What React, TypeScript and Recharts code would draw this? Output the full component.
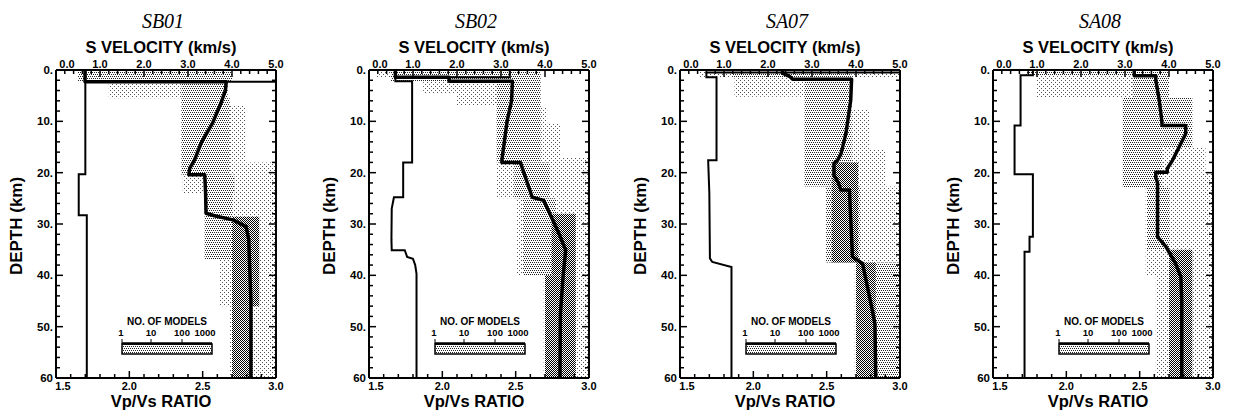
import React from "react";
import { ScatterChart, Scatter, XAxis, YAxis, ReferenceArea } from "recharts";

// [value, depth km]
type Pt = [number, number];
// [depth top, depth bottom, vs low, vs high]
type Band = [number, number, number, number];

const velocityTicks = [0, 1, 2, 3, 4, 5];
const velocityLabels = ["0.0", "1.0", "2.0", "3.0", "4.0", "5.0"];
const ratioTicks = [1.5, 2, 2.5, 3];
const ratioLabels = ["1.5", "2.0", "2.5", "3.0"];
const depthTicks = [0, 10, 20, 30, 40, 50, 60];
const depthLabels = ["0.", "10.", "20.", "30.", "40.", "50.", "60"];
const legendLabels = ["1", "10", "100", "1000"];

// SB01
const sb01Vs: Pt[] = [[0.66, 0], [0.66, 2.3], [3.87, 2.3], [3.85, 4], [3.75, 6.4], [3.56, 10.3], [3.3, 14.2], [3.15, 17.5], [3.04, 19.1], [3.02, 20.4], [3.38, 20.4], [3.4, 24], [3.41, 27.9], [3.6, 28.4], [4.02, 29.2], [4.32, 30.5], [4.38, 33], [4.4, 38], [4.43, 45], [4.43, 60]];
const sb01Ratio: Pt[] = [[3.0, 0], [3.0, 2.3], [1.7, 2.3], [1.7, 20.3], [1.655, 20.3], [1.655, 28.3], [1.71, 28.3], [1.71, 60]];
const sb01Light: Band[] = [[2.5, 5.5, 1.2, 2.85], [6.9, 18, 3.95, 4.32], [18, 24, 2.88, 5], [24, 37, 3.38, 5], [37, 46, 3.72, 5], [46, 60, 3.94, 5]];
const sb01Mid: Band[] = [[0, 2.2, 0.5, 4.0], [2.5, 5.5, 2.85, 3.9], [5.5, 20.4, 2.85, 3.95], [20.4, 24, 3.38, 4.05], [24, 37, 3.38, 4.0]];
const sb01Dark: Band[] = [[28.6, 37, 4.0, 4.62], [37, 46, 4.0, 4.62], [46, 60, 4.0, 4.47]];

// SB02
const sb02Vs: Pt[] = [[0.6, 0], [0.6, 1.4], [1.82, 1.4], [1.82, 2.2], [3.26, 2.2], [3.24, 6], [3.14, 9.9], [3.02, 17.6], [3.02, 18], [3.44, 18], [3.71, 24.8], [3.97, 25.4], [4.32, 31.9], [4.47, 35.1], [4.41, 40.3], [4.35, 47.5], [4.34, 60]];
const sb02Ratio: Pt[] = [[2.46, 0], [2.46, 1.4], [1.68, 1.4], [1.68, 2.2], [1.794, 2.2], [1.794, 18], [1.733, 18], [1.733, 24.8], [1.67, 24.8], [1.655, 27], [1.653, 33], [1.655, 35.1], [1.744, 35.1], [1.76, 36.4], [1.8, 36.8], [1.815, 38], [1.824, 39.7], [1.824, 60]];
const sb02Light: Band[] = [[0, 1.4, 0.17, 0.5], [2.2, 4.5, 1.23, 2.9], [4.5, 7, 2.0, 2.9], [7.3, 10.5, 3.9, 4.05], [10.5, 17, 3.9, 4.35], [17, 25, 2.9, 5], [25, 40, 3.36, 5], [40, 60, 3.97, 5]];
const sb02Mid: Band[] = [[0, 2.2, 0.5, 3.9], [2.2, 18, 2.9, 3.9], [18, 25, 3.3, 4.1], [25, 40, 3.5, 4.25]];
const sb02Dark: Band[] = [[28, 40, 4.15, 4.7], [40, 60, 4.0, 4.7]];

// SA07
const sa07Vs: Pt[] = [[2.33, 0], [2.33, 0.6], [2.5, 1.3], [2.56, 1.8], [3.9, 1.8], [3.88, 5.9], [3.77, 12.4], [3.66, 16.3], [3.58, 17.6], [3.5, 18.2], [3.5, 20.5], [3.6, 22], [3.66, 23.4], [3.85, 23.4], [3.92, 36.4], [4.15, 37.7], [4.37, 46.8], [4.43, 49.4], [4.45, 60]];
const sa07Ratio: Pt[] = [[3.0, 0], [3.0, 0.5], [1.68, 0.5], [1.68, 1.4], [1.749, 1.4], [1.749, 17.6], [1.692, 17.6], [1.695, 20], [1.7, 24], [1.704, 36.7], [1.72, 37.4], [1.851, 38.4], [1.851, 60]];
const sa07Light: Band[] = [[0, 1.5, 0.45, 5], [1.5, 5.2, 1.24, 2.83], [7.8, 15.6, 3.9, 4.3], [15.6, 22.7, 3.9, 4.68], [22.7, 37.5, 3.32, 5], [37.5, 60, 3.97, 5]];
const sa07Mid: Band[] = [[0.5, 1.5, 1.2, 3.9], [1.5, 22.7, 2.83, 3.9], [22.7, 37.5, 3.32, 4.1], [37.5, 60, 4.45, 5]];
const sa07Dark: Band[] = [[18, 37.5, 3.45, 4.05], [37.5, 60, 4.0, 4.45]];

// SA08
const sa08Vs: Pt[] = [[3.21, 0], [3.21, 1.1], [3.7, 1.1], [3.7, 2], [3.78, 6], [3.84, 10.2], [3.84, 10.8], [4.38, 10.8], [4.38, 12.4], [4.23, 15], [4.08, 17.6], [3.96, 19.2], [3.96, 19.9], [3.7, 19.9], [3.7, 21], [3.74, 22], [3.74, 32.5], [3.93, 34.4], [4.15, 37.7], [4.27, 40.3], [4.29, 45], [4.29, 60]];
const sa08Ratio: Pt[] = [[1.772, 0], [1.772, 1.0], [1.688, 1.0], [1.688, 10.8], [1.647, 10.8], [1.647, 20.3], [1.772, 20.3], [1.772, 32.5], [1.749, 32.5], [1.749, 35.4], [1.715, 35.4], [1.715, 60]];
const sa08Light: Band[] = [[1, 5.3, 0.98, 3.17], [15, 19.9, 3.85, 4.83], [19.9, 22.8, 2.95, 5], [22.8, 40, 3.47, 5], [40, 60, 3.7, 5]];
const sa08Mid: Band[] = [[0, 1, 0.75, 4.0], [1, 5.3, 3.17, 4.0], [5.3, 22.8, 2.95, 3.85], [5.3, 15, 3.85, 4.53], [22.8, 35, 3.5, 4.0]];
const sa08Dark: Band[] = [[35, 60, 4.0, 4.53]];

const panels = [
  { name: "SB01", left: 56, vs: sb01Vs, ratio: sb01Ratio, light: sb01Light, mid: sb01Mid, dark: sb01Dark },
  { name: "SB02", left: 369, vs: sb02Vs, ratio: sb02Ratio, light: sb02Light, mid: sb02Mid, dark: sb02Dark },
  { name: "SA07", left: 680, vs: sa07Vs, ratio: sa07Ratio, light: sa07Light, mid: sa07Mid, dark: sa07Dark },
  { name: "SA08", left: 993, vs: sa08Vs, ratio: sa08Ratio, light: sa08Light, mid: sa08Mid, dark: sa08Dark },
];

const SANS = "'Liberation Sans', Arial, Helvetica, sans-serif";
const SERIF = "'Liberation Serif', 'DejaVu Serif', serif";
const PLOT_W = 220;
const PLOT_TOP = 70;
const PLOT_BOTTOM = 378;

function withMinor(majors: number[], parts: number) {
  const out: number[] = [];
  for (let i = 0; i < majors.length - 1; i++) {
    const step = (majors[i + 1] - majors[i]) / parts;
    for (let k = 0; k < parts; k++) out.push(+(majors[i] + k * step).toFixed(4));
  }
  out.push(majors[majors.length - 1]);
  return out;
}

const majorIndex = (majors: number[], v: number) => majors.findIndex((m) => Math.abs(m - v) < 1e-6);

// ticks point into the plot, like the original figure
function makeTick(side: "top" | "bottom" | "left" | "right", majors: number[], labels: string[], firstShift = 0) {
  return (props: any) => {
    const { x, y, payload } = props;
    const i = majorIndex(majors, payload.value);
    const len = i >= 0 ? 7 : 4;
    let line;
    let label = null;
    if (side === "top") {
      line = <line x1={x} y1={y} x2={x} y2={y + len} stroke="#000" strokeWidth={1.5} />;
      if (i >= 0) label = <text x={x + (i === 0 ? firstShift : 0)} y={y - 2} textAnchor="middle" fontSize={11} fontWeight={700} fontFamily={SANS}>{labels[i]}</text>;
    } else if (side === "bottom") {
      line = <line x1={x} y1={y} x2={x} y2={y - len} stroke="#000" strokeWidth={1.5} />;
      if (i >= 0) label = <text x={x + (i === 0 ? firstShift : 0)} y={y + 12} textAnchor="middle" fontSize={11} fontWeight={700} fontFamily={SANS}>{labels[i]}</text>;
    } else if (side === "left") {
      line = <line x1={x} y1={y} x2={x + len} y2={y} stroke="#000" strokeWidth={1.5} />;
      if (i >= 0) label = <text x={x - 3} y={y + 4} textAnchor="end" fontSize={11.5} fontWeight={700} fontFamily={SANS}>{labels[i]}</text>;
    } else {
      line = <line x1={x} y1={y} x2={x - len} y2={y} stroke="#000" strokeWidth={1.5} />;
    }
    return <g>{line}{label}</g>;
  };
}

const topTick = makeTick("top", velocityTicks, velocityLabels, 11);
const bottomTick = makeTick("bottom", ratioTicks, ratioLabels, 7);
const leftTick = makeTick("left", depthTicks, depthLabels);
const rightTick = makeTick("right", depthTicks, depthLabels);

const vAll = withMinor(velocityTicks, 5);
const rAll = withMinor(ratioTicks, 5);
const dAll = withMinor(depthTicks, 5);

const axisLine = { stroke: "#000", strokeWidth: 2 };
const NoDot = () => <g />;

function bandAreas(bands: Band[], fill: string, key: string) {
  return bands.map(([d1, d2, v1, v2], i) => (
    <ReferenceArea key={key + i} xAxisId="vs" yAxisId="d" x1={v1} x2={v2} y1={d1} y2={d2}
      fill={fill} fillOpacity={1} stroke="none" ifOverflow="visible" />
  ));
}

function Panel({ p }: { p: (typeof panels)[number] }) {
  const vsPts = p.vs.map(([x, y]) => ({ x, y }));
  const ratioPts = p.ratio.map(([x, y]) => ({ x, y }));
  // axes are 1px thick, so the margins are 1px smaller
  return (
    <div style={{ position: "absolute", left: p.left - 56, top: 0 }}>
      <ScatterChart width={300} height={414} margin={{ top: PLOT_TOP - 1, right: 300 - 56 - PLOT_W - 1, bottom: 414 - PLOT_BOTTOM - 1, left: 55 }}>
        <XAxis xAxisId="vs" type="number" dataKey="x" orientation="top" domain={[0, 5]} ticks={vAll} interval={0}
          height={1} tickSize={0} tickMargin={0} tickLine={false} axisLine={axisLine} tick={topTick} allowDataOverflow />
        <XAxis xAxisId="r" type="number" dataKey="x" orientation="bottom" domain={[1.5, 3]} ticks={rAll} interval={0}
          height={1} tickSize={0} tickMargin={0} tickLine={false} axisLine={axisLine} tick={bottomTick} allowDataOverflow />
        <YAxis yAxisId="d" type="number" dataKey="y" domain={[0, 60]} reversed ticks={dAll} interval={0}
          width={1} tickSize={0} tickMargin={0} tickLine={false} axisLine={axisLine} tick={leftTick} allowDataOverflow />
        <YAxis yAxisId="dr" type="number" dataKey="y" orientation="right" domain={[0, 60]} reversed ticks={dAll} interval={0}
          width={1} tickSize={0} tickMargin={0} tickLine={false} axisLine={axisLine} tick={rightTick} allowDataOverflow />
        {bandAreas(p.light, "url(#stipLight)", "l")}
        {bandAreas(p.mid, "url(#stipMid)", "m")}
        {bandAreas(p.dark, "url(#stipDark)", "k")}
        <Scatter name="Vp/Vs" xAxisId="r" yAxisId="d" data={ratioPts} fill="#000" shape={NoDot}
          line={{ strokeWidth: 2, strokeLinejoin: "miter" }} lineType="joint" isAnimationActive={false} />
        <Scatter name="S velocity" xAxisId="vs" yAxisId="d" data={vsPts} fill="#000" shape={NoDot}
          line={{ strokeWidth: 3.5, strokeLinejoin: "round" }} lineType="joint" isAnimationActive={false} />
      </ScatterChart>
    </div>
  );
}

function Labels({ left, name }: { left: number; name: string }) {
  const cx = left + PLOT_W / 2;
  return (
    <g>
      <text x={cx - 3} y={28} textAnchor="middle" fontFamily={SERIF} fontStyle="italic" fontSize={20}>{name}</text>
      <text x={cx - 5} y={53} textAnchor="middle" fontFamily={SANS} fontWeight={700} fontSize={16.5}>S VELOCITY (km/s)</text>
      <text x={cx - 5} y={407} textAnchor="middle" fontFamily={SANS} fontWeight={700} fontSize={16.5}>Vp/Vs RATIO</text>
      <text transform={`translate(${left - 34}, 226) rotate(-90)`} textAnchor="middle" fontFamily={SANS} fontWeight={700} fontSize={17}>DEPTH (km)</text>
      {/* NO. OF MODELS legend */}
      <text x={left + 111} y={325} textAnchor="middle" fontFamily={SANS} fontWeight={700} fontSize={10}>NO. OF MODELS</text>
      {legendLabels.map((t, i) => (
        <text key={t} x={left + [65, 95, 126, 149][i]} y={336} textAnchor="middle" fontFamily={SANS} fontWeight={700} fontSize={9.5}>{t}</text>
      ))}
      <rect x={left + 66} y={344} width={90} height={10} fill="url(#stipMid)" stroke="#000" strokeWidth={1.5} />
      <line x1={left + 66} y1={343.5} x2={left + 156} y2={343.5} stroke="#000" strokeWidth={2.5} />
      {[66, 95, 126].map((dx) => (
        <line key={dx} x1={left + dx} y1={339} x2={left + dx} y2={344} stroke="#000" strokeWidth={1} />
      ))}
    </g>
  );
}

export default function App() {
  return (
    <div style={{ position: "relative", width: 1236, height: 414, background: "#fff", overflow: "hidden" }}>
      <style>{"body{margin:0}"}</style>
      <svg width={0} height={0} style={{ position: "absolute" }}>
        <defs>
          <pattern id="stipLight" patternUnits="userSpaceOnUse" width={4} height={4}>
            <rect width={4} height={4} fill="#fff" />
            <rect x={0} y={0} width={1} height={1} fill="#555" />
            <rect x={2} y={2} width={1} height={1} fill="#555" />
          </pattern>
          <pattern id="stipMid" patternUnits="userSpaceOnUse" width={4} height={4}>
            <rect width={4} height={4} fill="#fff" />
            <rect x={0} y={0} width={1} height={1} fill="#222" />
            <rect x={2} y={0} width={1} height={1} fill="#222" />
            <rect x={1} y={2} width={1} height={1} fill="#222" />
            <rect x={3} y={2} width={1} height={1} fill="#222" />
          </pattern>
          <pattern id="stipDark" patternUnits="userSpaceOnUse" width={2} height={2}>
            <rect width={2} height={2} fill="#fff" />
            <rect x={0} y={0} width={1} height={1} fill="#000" />
            <rect x={1} y={1} width={1} height={1} fill="#000" />
          </pattern>
        </defs>
      </svg>
      {panels.map((p) => <Panel key={p.name} p={p} />)}
      <svg width={1236} height={414} style={{ position: "absolute", left: 0, top: 0, pointerEvents: "none" }}>
        {panels.map((p) => <Labels key={p.name} left={p.left} name={p.name} />)}
      </svg>
    </div>
  );
}
